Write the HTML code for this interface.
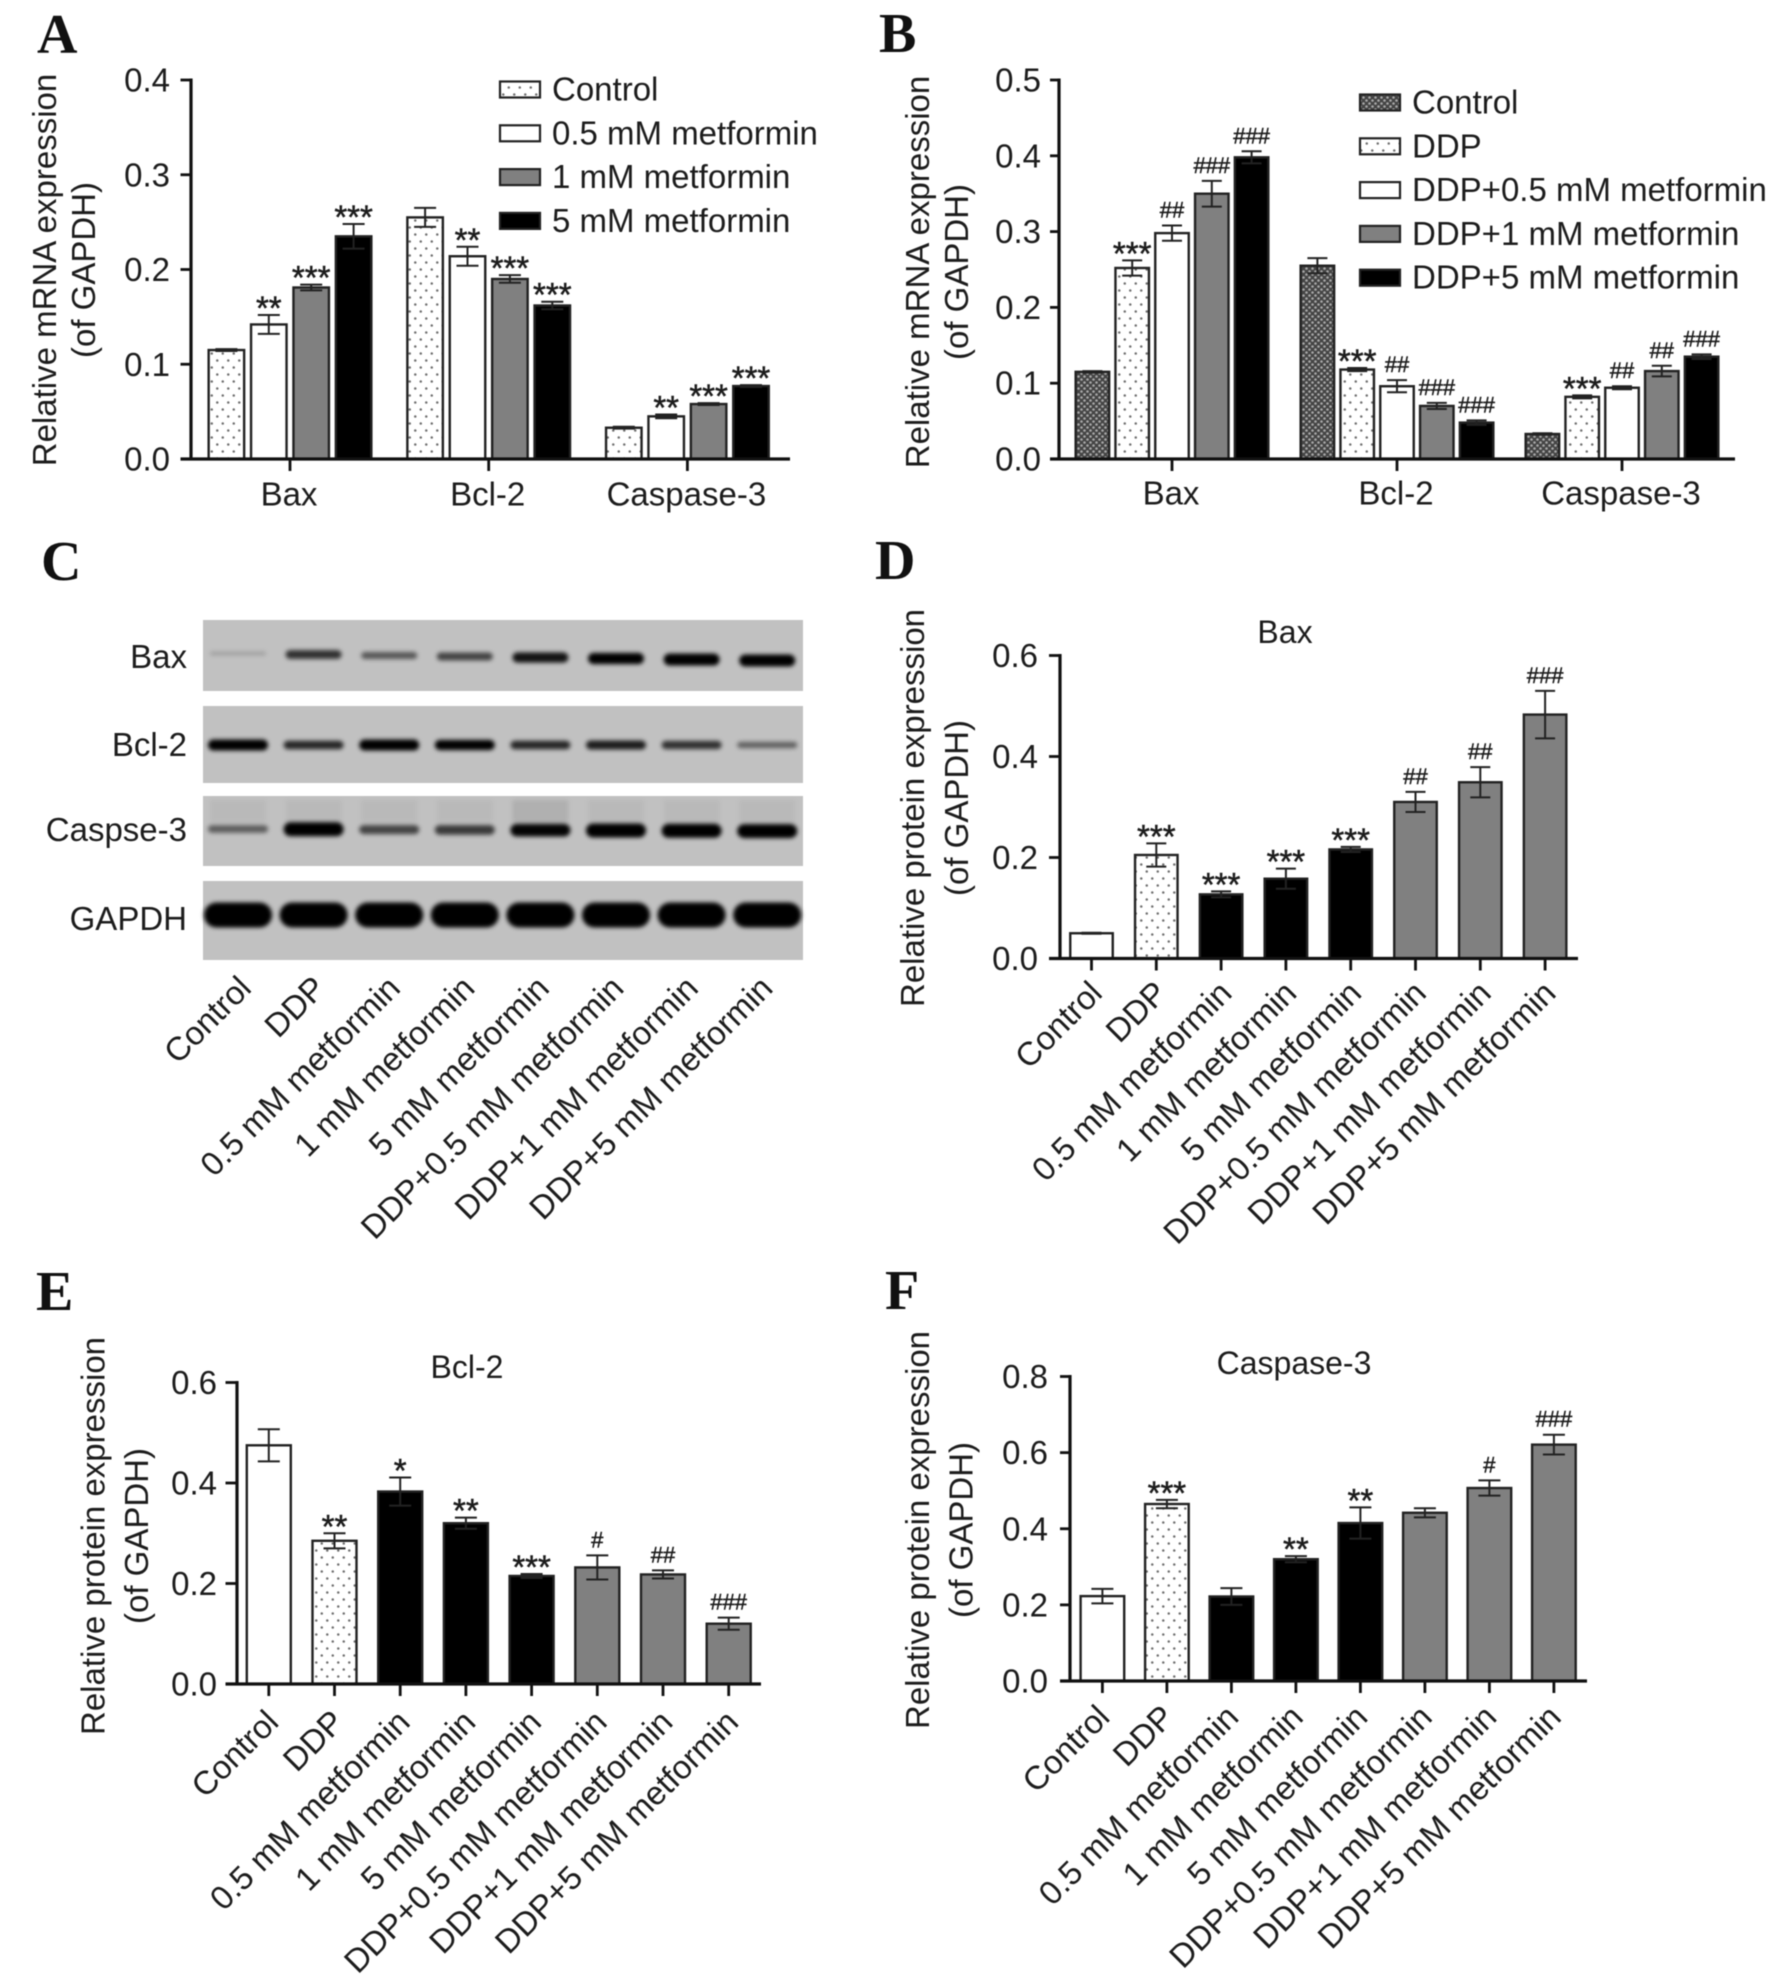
<!DOCTYPE html>
<html lang="en">
<head>
<meta charset="utf-8">
<title>Metformin and DDP effects on apoptosis markers</title>
<style>
html,body{margin:0;padding:0;background:#fff;}
#figure{display:block;width:1780px;height:1986px;filter:blur(.55px);}
text{font-family:"Liberation Sans",Arial,sans-serif;fill:#1c1c1c;}
.panel-letter{font-family:"Liberation Serif","Times New Roman",serif;font-weight:bold;font-size:56px;fill:#111;}
</style>
</head>
<body>
<svg id="figure" xmlns="http://www.w3.org/2000/svg" width="1780" height="1986" viewBox="0 0 1780 1986">
  <defs>
    <pattern id="dots" width="11" height="14" patternUnits="userSpaceOnUse">
      <rect width="11" height="14" fill="#fff"/>
      <circle cx="2.75" cy="3.5" r="1.25" fill="#707070"/>
      <circle cx="8.25" cy="10.5" r="1.25" fill="#707070"/>
    </pattern>
    <pattern id="checker" width="6" height="6" patternUnits="userSpaceOnUse">
      <rect width="6" height="6" fill="#444"/>
      <circle cx="1.5" cy="1.5" r="1.3" fill="#a8a8a8"/>
      <circle cx="4.5" cy="4.5" r="1.3" fill="#a8a8a8"/>
    </pattern>
    <filter id="band-blur" x="-20%" y="-100%" width="140%" height="300%">
      <feGaussianBlur stdDeviation="2.2"/>
    </filter>
  </defs>
  <rect width="1780" height="1986" fill="#fff"/>
  <text class="panel-letter" x="37" y="53">A</text>
  <text class="panel-letter" x="879" y="52">B</text>
  <text class="panel-letter" x="41" y="580">C</text>
  <text class="panel-letter" x="875" y="579">D</text>
  <text class="panel-letter" x="36" y="1310">E</text>
  <text class="panel-letter" x="885" y="1309">F</text>
  <g id="charts"></g>
</svg>
<script>
// ---------- Panel A data ----------
const panelACategories = ['Bax', 'Bcl-2', 'Caspase-3'];
const panelASeriesNames = ['Control', '0.5 mM metformin', '1 mM metformin', '5 mM metformin'];
const panelATicks = ['0.0', '0.1', '0.2', '0.3', '0.4'];
const panelAControlValues = [0.115, 0.255, 0.033];
const panelAControlErrors = [0.001, 0.010, 0.001];
const panelAControlMarks = ['', '', ''];
const panelAHalfValues = [0.142, 0.214, 0.045];
const panelAHalfErrors = [0.010, 0.010, 0.002];
const panelAHalfMarks = ['**', '**', '**'];
const panelAOneValues = [0.181, 0.190, 0.058];
const panelAOneErrors = [0.003, 0.004, 0.001];
const panelAOneMarks = ['***', '***', '***'];
const panelAFiveValues = [0.235, 0.162, 0.077];
const panelAFiveErrors = [0.013, 0.004, 0.001];
const panelAFiveMarks = ['***', '***', '***'];

// ---------- Panel B data ----------
const panelBCategories = ['Bax', 'Bcl-2', 'Caspase-3'];
const panelBSeriesNames = ['Control', 'DDP', 'DDP+0.5 mM metformin', 'DDP+1 mM metformin', 'DDP+5 mM metformin'];
const panelBTicks = ['0.0', '0.1', '0.2', '0.3', '0.4', '0.5'];
const panelBControlValues = [0.115, 0.255, 0.033];
const panelBControlErrors = [0.001, 0.010, 0.001];
const panelBControlMarks = ['', '', ''];
const panelBDdpValues = [0.252, 0.118, 0.082];
const panelBDdpErrors = [0.010, 0.002, 0.002];
const panelBDdpMarks = ['***', '***', '***'];
const panelBHalfValues = [0.298, 0.096, 0.094];
const panelBHalfErrors = [0.010, 0.008, 0.002];
const panelBHalfMarks = ['##', '##', '##'];
const panelBOneValues = [0.350, 0.070, 0.116];
const panelBOneErrors = [0.017, 0.004, 0.007];
const panelBOneMarks = ['###', '###', '##'];
const panelBFiveValues = [0.398, 0.048, 0.135];
const panelBFiveErrors = [0.008, 0.003, 0.003];
const panelBFiveMarks = ['###', '###', '###'];

// ---------- Shared treatment labels (C, D, E, F) ----------
const treatmentLabels = ['Control', 'DDP', '0.5 mM metformin', '1 mM metformin', '5 mM metformin', 'DDP+0.5 mM metformin', 'DDP+1 mM metformin', 'DDP+5 mM metformin'];
const proteinTicksSix = ['0.0', '0.2', '0.4', '0.6'];
const proteinTicksEight = ['0.0', '0.2', '0.4', '0.6', '0.8'];

// ---------- Panel C blot band intensities ----------
const blotRowNames = ['Bax', 'Bcl-2', 'Caspse-3', 'GAPDH'];
const blotBaxIntensity = [0.08, 0.65, 0.45, 0.55, 0.8, 0.92, 1, 1];
const blotBcl2Intensity = [1, 0.7, 1, 0.9, 0.7, 0.75, 0.65, 0.4];
const blotCaspaseIntensity = [0.42, 1, 0.55, 0.6, 0.88, 1, 1, 1];
const blotGapdhIntensity = [1, 1, 1, 1, 1, 1, 1, 1];

// ---------- Panel D data ----------
const panelDValues = [0.050, 0.205, 0.127, 0.158, 0.216, 0.310, 0.349, 0.483];
const panelDErrors = [0.001, 0.023, 0.006, 0.020, 0.005, 0.020, 0.030, 0.047];
const panelDMarks = ['', '***', '***', '***', '***', '##', '##', '###'];

// ---------- Panel E data ----------
const panelEValues = [0.475, 0.285, 0.383, 0.320, 0.215, 0.232, 0.218, 0.120];
const panelEErrors = [0.032, 0.015, 0.028, 0.011, 0.004, 0.024, 0.008, 0.012];
const panelEMarks = ['', '**', '*', '**', '***', '#', '##', '###'];

// ---------- Panel F data ----------
const panelFValues = [0.223, 0.465, 0.222, 0.320, 0.415, 0.442, 0.507, 0.621];
const panelFErrors = [0.019, 0.011, 0.022, 0.008, 0.041, 0.012, 0.020, 0.026];
const panelFMarks = ['', '***', '', '**', '**', '', '#', '###'];

// ---------- Helpers ----------
const SVG_NS = 'http://www.w3.org/2000/svg';
const chartsRoot = document.getElementById('charts');

function mk(tag, attrs, parent, text) {
  const node = document.createElementNS(SVG_NS, tag);
  Object.keys(attrs).forEach(function (k) { node.setAttribute(k, attrs[k]); });
  if (text !== undefined) node.textContent = text;
  parent.appendChild(node);
  return node;
}
function slug(s) {
  return String(s).toLowerCase().replace(/[^a-z0-9]+/g, '-').replace(/^-|-$/g, '');
}
function linearY(layout) {
  return function (v) {
    return layout.y0 - (v / layout.yMax) * (layout.y0 - layout.yTop);
  };
}
function treatmentFill(i) {
  if (i === 0) return '#fff';
  if (i === 1) return 'url(#dots)';
  if (i <= 4) return '#000';
  return '#808080';
}

function drawAxes(g, layout, ticks, y) {
  const yAxis = mk('line', {x1: layout.x0, x2: layout.x0, y1: layout.yTop - 1.5, y2: layout.y0, stroke: '#111', 'stroke-width': 3.2}, g);
  
  
  const xAxis = mk('line', {x1: layout.xAxisStart, x2: layout.xAxisEnd, y1: layout.y0, y2: layout.y0, stroke: '#111', 'stroke-width': 3.2}, g);
  
  
  ticks.forEach(function (label) {
    const v = parseFloat(label);
    const t = mk('line', {x1: layout.xAxisStart, x2: layout.x0, y1: y(v), y2: y(v), stroke: '#111', 'stroke-width': 2.8}, g);
    
    
    const tx = mk('text', {x: layout.tickLabelX, y: y(v) + 11.5, 'text-anchor': 'end', 'font-size': layout.font}, g, label);
    
    
  });
  const t1 = mk('text', {transform: 'translate(' + layout.titleX1 + ' ' + layout.titleCy + ') rotate(-90)', 'text-anchor': 'middle', 'font-size': 33}, g, layout.yTitle);
  
  
  const t2 = mk('text', {transform: 'translate(' + layout.titleX2 + ' ' + layout.titleCy + ') rotate(-90)', 'text-anchor': 'middle', 'font-size': 33}, g, '(of GAPDH)');
  
  
}

function drawBar(g, layout, y, cx, value, err, fill, mark, name) {
  const topY = y(value);
  const bar = mk('rect', {x: cx - layout.barW / 2, y: topY, width: layout.barW, height: layout.y0 - topY, fill: fill, stroke: '#222', 'stroke-width': 2.4}, g);
  
  
  const hi = y(value + err);
  const lo = y(value - err);
  const cap = layout.capW / 2;
  const eb = mk('path', {d: 'M' + cx + ' ' + hi + 'V' + lo + 'M' + (cx - cap) + ' ' + hi + 'H' + (cx + cap) + 'M' + (cx - cap) + ' ' + lo + 'H' + (cx + cap), fill: 'none', stroke: '#222', 'stroke-width': 2}, g);
  
  
  if (mark) {
    const isStar = mark.charAt(0) === '*';
    const sig = mk('text', {x: cx, y: isStar ? hi + 4.5 : hi - 8, 'text-anchor': 'middle', 'font-size': isStar ? 33 : 22, stroke: '#1c1c1c', 'stroke-width': isStar ? 0.5 : 0.45}, g, mark);
    
    
  }
}

function drawGroupedChart(id, layout, categories, ticks, series) {
  const g = mk('g', {}, chartsRoot);
  
  
  const y = linearY(layout);
  series.forEach(function (s, si) {
    const n = series.length;
    categories.forEach(function (cat, ci) {
      const cx = layout.firstTick + ci * layout.groupStep + (si - (n - 1) / 2) * layout.barStep;
      drawBar(g, layout, y, cx, s.values[ci], s.errors[ci], s.fill, s.marks[ci], slug(cat) + '-' + slug(s.name));
    });
  });
  drawAxes(g, layout, ticks, y);
  categories.forEach(function (cat, ci) {
    const cx = layout.firstTick + ci * layout.groupStep;
    const t = mk('line', {x1: cx, x2: cx, y1: layout.y0, y2: layout.y0 + 12, stroke: '#111', 'stroke-width': 2.8}, g);
    
    
    const l = mk('text', {x: cx - 1, y: layout.catBaseline, 'text-anchor': 'middle', 'font-size': 33}, g, cat);
    
    
  });
  series.forEach(function (s, si) {
    const rowY = layout.legendY + si * layout.legendStep;
    const sw = mk('rect', {x: layout.legendX, y: rowY - 8, width: 40, height: 16, fill: s.fill, stroke: '#222', 'stroke-width': 2.2}, g);
    
    
    const lt = mk('text', {x: layout.legendX + 52, y: rowY + 11, 'font-size': 33}, g, s.name);
    
    
  });
}

function drawRotatedLabels(g, x0, step, yBase) {
  treatmentLabels.forEach(function (label, i) {
    const x = x0 + i * step;
    const t = mk('text', {x: x, y: yBase, 'text-anchor': 'end', 'font-size': 33, transform: 'rotate(-45 ' + x + ' ' + yBase + ')'}, g, label);
    
    
  });
}

function drawTreatmentChart(id, layout, ticks, values, errors, marks) {
  const g = mk('g', {}, chartsRoot);
  
  
  const y = linearY(layout);
  values.forEach(function (v, i) {
    const cx = layout.firstTick + i * layout.barStep;
    drawBar(g, layout, y, cx, v, errors[i], treatmentFill(i), marks[i], slug(treatmentLabels[i]));
  });
  drawAxes(g, layout, ticks, y);
  values.forEach(function (v, i) {
    const cx = layout.firstTick + i * layout.barStep;
    const t = mk('line', {x1: cx, x2: cx, y1: layout.y0, y2: layout.y0 + 12, stroke: '#111', 'stroke-width': 2.8}, g);
    
    
  });
  drawRotatedLabels(g, layout.firstTick + layout.labelDx, layout.barStep, layout.labelY);
  const title = mk('text', {x: layout.plotTitleX, y: layout.plotTitleY, 'text-anchor': 'middle', 'font-size': 32}, g, layout.plotTitle);
  
  
}

function drawBlot() {
  const g = mk('g', {}, chartsRoot);
  
  
  const rows = [
    {name: blotRowNames[0], top: 620, bottom: 691, center: 653.5, tilt: 1.0, labelY: 668, levels: blotBaxIntensity, w: 56, base: 3, gain: 9},
    {name: blotRowNames[1], top: 706, bottom: 783, center: 745, tilt: 0, labelY: 756, levels: blotBcl2Intensity, w: 60, base: 3, gain: 8},
    {name: blotRowNames[2], top: 796, bottom: 866, center: 829, tilt: 0.3, labelY: 841, levels: blotCaspaseIntensity, w: 60, base: 3, gain: 11},
    {name: blotRowNames[3], top: 881, bottom: 960, center: 915, tilt: 0, labelY: 930, levels: blotGapdhIntensity, w: 68, base: 7, gain: 18}
  ];
  rows.forEach(function (r) {
    const strip = mk('rect', {x: 203, y: r.top, width: 600, height: r.bottom - r.top, fill: '#c1c1c1'}, g);
    
    
    const label = mk('text', {x: 187, y: r.labelY, 'text-anchor': 'end', 'font-size': 33}, g, r.name);
    
    
    const bands = mk('g', {filter: 'url(#band-blur)'}, g);
    
    
    r.levels.forEach(function (level, i) {
      const cx = 238 + i * 75.6;
      const h = r.base + level * r.gain;
      const cy = r.center + i * r.tilt;
      const band = mk('rect', {x: cx - r.w / 2, y: cy - h / 2, width: r.w, height: h, rx: h / 2, fill: '#000', 'fill-opacity': Math.min(1, 0.1 + level)}, bands);
      
      
      if (r.name === 'Caspse-3') {
        const smear = mk('rect', {x: cx - 28, y: r.top + 4, width: 56, height: 22, fill: '#000', 'fill-opacity': i === 4 ? 0.09 : 0.04}, bands);
        
        
      }
    });
  });
  drawRotatedLabels(g, 253, 74.5, 990);
}

// ---------- Build ----------
drawGroupedChart('a', {
  x0: 191, y0: 459, yTop: 80, yMax: 0.4, xAxisStart: 180.5, xAxisEnd: 790, tickLabelX: 170,
  firstTick: 290, groupStep: 198.7, barStep: 42.4, barW: 35.5, capW: 22, font: 33,
  titleX1: 56, titleX2: 95, titleCy: 270, yTitle: 'Relative mRNA expression', catBaseline: 505.5,
  legendX: 500, legendY: 89.5, legendStep: 43.8
}, panelACategories, panelATicks, [
  {name: panelASeriesNames[0], fill: 'url(#dots)', values: panelAControlValues, errors: panelAControlErrors, marks: panelAControlMarks},
  {name: panelASeriesNames[1], fill: '#fff', values: panelAHalfValues, errors: panelAHalfErrors, marks: panelAHalfMarks},
  {name: panelASeriesNames[2], fill: '#808080', values: panelAOneValues, errors: panelAOneErrors, marks: panelAOneMarks},
  {name: panelASeriesNames[3], fill: '#000', values: panelAFiveValues, errors: panelAFiveErrors, marks: panelAFiveMarks}
]);

drawGroupedChart('b', {
  x0: 1059, y0: 459, yTop: 80, yMax: 0.5, xAxisStart: 1050, xAxisEnd: 1735, tickLabelX: 1041,
  firstTick: 1172, groupStep: 225, barStep: 39.8, barW: 33.5, capW: 20, font: 33,
  titleX1: 929, titleX2: 968, titleCy: 272, yTitle: 'Relative mRNA expression', catBaseline: 504.5,
  legendX: 1360, legendY: 102.5, legendStep: 43.8
}, panelBCategories, panelBTicks, [
  {name: panelBSeriesNames[0], fill: 'url(#checker)', values: panelBControlValues, errors: panelBControlErrors, marks: panelBControlMarks},
  {name: panelBSeriesNames[1], fill: 'url(#dots)', values: panelBDdpValues, errors: panelBDdpErrors, marks: panelBDdpMarks},
  {name: panelBSeriesNames[2], fill: '#fff', values: panelBHalfValues, errors: panelBHalfErrors, marks: panelBHalfMarks},
  {name: panelBSeriesNames[3], fill: '#808080', values: panelBOneValues, errors: panelBOneErrors, marks: panelBOneMarks},
  {name: panelBSeriesNames[4], fill: '#000', values: panelBFiveValues, errors: panelBFiveErrors, marks: panelBFiveMarks}
]);

drawBlot();

drawTreatmentChart('d', {
  x0: 1060, y0: 958.5, yTop: 655.5, yMax: 0.6, xAxisStart: 1049, xAxisEnd: 1578, tickLabelX: 1038,
  firstTick: 1091.5, barStep: 64.8, barW: 42.5, capW: 20, font: 33,
  titleX1: 924, titleX2: 968, titleCy: 808, yTitle: 'Relative protein expression',
  labelDx: 12.5, labelY: 995, plotTitle: 'Bax', plotTitleX: 1285, plotTitleY: 643
}, proteinTicksSix, panelDValues, panelDErrors, panelDMarks);

drawTreatmentChart('e', {
  x0: 237, y0: 1684, yTop: 1382.5, yMax: 0.6, xAxisStart: 225.5, xAxisEnd: 761, tickLabelX: 217,
  firstTick: 268.8, barStep: 65.7, barW: 44, capW: 22, font: 33,
  titleX1: 104.5, titleX2: 148, titleCy: 1536, yTitle: 'Relative protein expression',
  labelDx: 11.5, labelY: 1724, plotTitle: 'Bcl-2', plotTitleX: 467, plotTitleY: 1378
}, proteinTicksSix, panelEValues, panelEErrors, panelEMarks);

drawTreatmentChart('f', {
  x0: 1070, y0: 1681, yTop: 1376.5, yMax: 0.8, xAxisStart: 1060, xAxisEnd: 1587, tickLabelX: 1048,
  firstTick: 1102.4, barStep: 64.5, barW: 43.6, capW: 22, font: 33,
  titleX1: 929, titleX2: 972.5, titleCy: 1530, yTitle: 'Relative protein expression',
  labelDx: 9, labelY: 1719, plotTitle: 'Caspase-3', plotTitleX: 1294, plotTitleY: 1374
}, proteinTicksEight, panelFValues, panelFErrors, panelFMarks);
</script>
</body>
</html>
